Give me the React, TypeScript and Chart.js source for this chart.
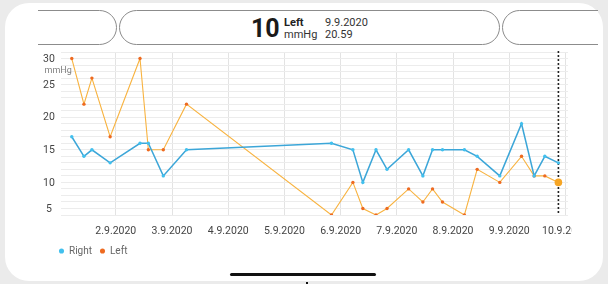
import React, { useEffect, useRef } from 'react';
import { Chart, registerables } from 'chart.js';

Chart.register(...registerables);

// Measurement times (day.month hh:mm, September 2020)
const times = [
  '1.9 05:12', '1.9 10:24', '1.9 13:48', '1.9 21:35',
  '2.9 10:20', '2.9 13:54', '2.9 20:17', '3.9 06:11',
  '5.9 20:05', '6.9 05:14', '6.9 09:29', '6.9 15:06',
  '6.9 19:48', '7.9 05:02', '7.9 11:07', '7.9 15:14',
  '7.9 19:29', '8.9 04:51', '8.9 10:18', '8.9 19:57',
  '9.9 05:14', '9.9 10:38', '9.9 15:11', '9.9 20:59',
];
const rightValues = [17, 14, 15, 13, 16, 16, 11, 15, 16, 15, 10, 15, 12, 15, 11, 15, 15, 15, 14, 11, 19, 11, 14, 13];
const leftValues = [29, 22, 26, 17, 29, 15, 15, 22, 5, 10, 6, 5, 6, 9, 7, 9, 7, 5, 12, 10, 14, 11, 11, 10];

const tickDays = [2, 3, 4, 5, 6, 7, 8, 9, 10];
const tickLabels = ['2.9.2020', '3.9.2020', '4.9.2020', '5.9.2020', '6.9.2020', '7.9.2020', '8.9.2020', '9.9.2020', '10.9.2020'];
const yLabelValues = [5, 10, 15, 20, 25, 30];
const xMin = 1.025;
const xMax = 10.045;

const toDay = (s: string) => {
  const [d, hm] = s.split(' ');
  const day = parseInt(d.split('.')[0], 10);
  const [h, m] = hm.split(':').map(Number);
  return day + h / 24 + m / 1440;
};

const lastIndex = times.length - 1;

const overlayPlugin = {
  id: 'overlay',
  beforeDatasetsDraw(chart: any) {
    const { ctx, chartArea, scales } = chart;
    const x = scales.x.getPixelForValue(toDay(times[lastIndex]));
    ctx.save();
    ctx.strokeStyle = '#222';
    ctx.lineWidth = 1.6;
    ctx.setLineDash([2, 2]);
    ctx.beginPath();
    ctx.moveTo(x, chartArea.top - 1);
    ctx.lineTo(x, chartArea.bottom);
    ctx.stroke();
    ctx.restore();
  },
  afterDraw(chart: any) {
    const { ctx, chartArea, scales } = chart;
    ctx.save();
    ctx.font = '10.5px Roboto';
    ctx.fillStyle = '#444';
    ctx.textAlign = 'center';
    ctx.textBaseline = 'middle';
    yLabelValues.forEach((v) => {
      let y = scales.y.getPixelForValue(v) + 0.6;
      y = Math.max(chartArea.top + 7.2, Math.min(chartArea.bottom - 5.5, y));
      ctx.fillText(String(v), 49, y);
    });
    ctx.font = '9px Roboto';
    ctx.fillStyle = '#808080';
    ctx.textAlign = 'left';
    ctx.fillText('mmHg', 44.5, chartArea.top + 18.5);
    ctx.restore();
  },
};

function ChartView() {
  const ref = useRef<HTMLCanvasElement | null>(null);
  useEffect(() => {
    if (!ref.current) return;
    const chart = new Chart(ref.current, {
      type: 'line',
      data: {
        datasets: [
          {
            label: 'Right',
            data: times.map((t, i) => ({ x: toDay(t), y: rightValues[i] })),
            borderColor: '#3ca6d8',
            backgroundColor: '#41c0ee',
            pointBackgroundColor: '#41c0ee',
            pointBorderWidth: 0,
            pointRadius: 1.7,
            borderWidth: 1.5,
            tension: 0,
            fill: false,
          },
          {
            label: 'Left',
            data: times.map((t, i) => ({ x: toDay(t), y: leftValues[i] })),
            borderColor: '#f8b340',
            backgroundColor: '#ee6a20',
            pointBackgroundColor: (c: any) => (c.dataIndex === lastIndex ? '#f6a524' : '#ee6a20'),
            pointBorderWidth: 0,
            pointRadius: (c: any) => (c.dataIndex === lastIndex ? 3.8 : 1.7),
            borderWidth: 1.1,
            tension: 0,
            fill: false,
          },
        ],
      },
      options: {
        responsive: false,
        animation: false,
        events: [],
        layout: { padding: { left: 51, top: 6, right: 2, bottom: 0 } },
        scales: {
          x: {
            type: 'linear',
            min: xMin,
            max: xMax,
            border: { display: false },
            grid: { color: '#e3e3e3', drawTicks: false, lineWidth: 1 },
            ticks: {
              color: '#444',
              font: { family: 'Roboto', size: 10.5 },
              padding: 10,
              maxRotation: 0,
              autoSkip: false,
              callback: (v: any) => {
                const i = tickDays.indexOf(Number(v));
                return i >= 0 ? tickLabels[i] : '';
              },
            },
            afterBuildTicks: (s: any) => {
              s.ticks = tickDays.map((v) => ({ value: v }));
            },
            afterFit: (s: any) => {
              s.height = 23;
              s.paddingLeft = 0;
              s.paddingRight = 0;
            },
          },
          y: {
            type: 'linear',
            min: 5,
            max: 30,
            border: { display: false },
            grid: { color: '#ececec', drawTicks: false, lineWidth: 1 },
            ticks: { stepSize: 1, display: false },
            afterFit: (s: any) => {
              s.width = 10;
              s.paddingTop = 0;
              s.paddingBottom = 0;
            },
          },
        },
        plugins: {
          legend: {
            position: 'bottom',
            align: 'start',
            labels: {
              usePointStyle: true,
              boxWidth: 5,
              boxHeight: 3.6,
              padding: 8,
              color: '#666',
              font: { family: 'Roboto', size: 10 },
            },
          },
          tooltip: { enabled: false },
        },
      },
      plugins: [overlayPlugin],
    } as any);
    return () => chart.destroy();
  }, []);
  return (
    <canvas
      ref={ref}
      width={572}
      height={220}
      style={{ position: 'absolute', left: 0, top: 46, width: 572, height: 220 }}
    />
  );
}

const pill: React.CSSProperties = {
  position: 'absolute',
  top: 10,
  height: 35,
  boxSizing: 'border-box',
  border: '1px solid #8c8c8c',
  borderRadius: 18,
  background: '#fff',
};

export default function App() {
  return (
    <div
      style={{
        position: 'fixed',
        left: 0,
        top: 0,
        width: 608,
        height: 284,
        background: '#ebebeb',
        overflow: 'hidden',
        fontFamily: 'Roboto, sans-serif',
      }}
    >
      <div
        style={{
          position: 'absolute',
          left: 5,
          top: 3,
          width: 598,
          height: 278,
          borderRadius: 24,
          background: '#fff',
        }}
      />
      <div style={{ position: 'absolute', left: 38, top: 0, width: 560, height: 50, overflow: 'hidden' }}>
        <div style={{ ...pill, left: -108, width: 186.5 }} />
        <div style={{ ...pill, left: 81, width: 381 }} />
        <div style={{ ...pill, left: 464, width: 200 }} />
      </div>
      <div style={{ position: 'absolute', left: 251, top: 15.7, fontSize: 25, lineHeight: 1, fontWeight: 700, color: '#1a1a1a' }}>10</div>
      <div style={{ position: 'absolute', left: 284, top: 16.8, fontSize: 11, lineHeight: 1, fontWeight: 700, color: '#222' }}>Left</div>
      <div style={{ position: 'absolute', left: 284, top: 29, fontSize: 11, lineHeight: 1, color: '#333' }}>mmHg</div>
      <div style={{ position: 'absolute', left: 325, top: 17, fontSize: 11, lineHeight: 1, color: '#333' }}>9.9.2020</div>
      <div style={{ position: 'absolute', left: 325, top: 29, fontSize: 11, lineHeight: 1, color: '#333' }}>20.59</div>
      <ChartView />
      <div style={{ position: 'absolute', left: 230, top: 272.5, width: 146, height: 3.5, borderRadius: 2, background: '#111' }} />
      <div style={{ position: 'absolute', left: 306, top: 282, width: 2, height: 2, background: '#111' }} />
    </div>
  );
}
